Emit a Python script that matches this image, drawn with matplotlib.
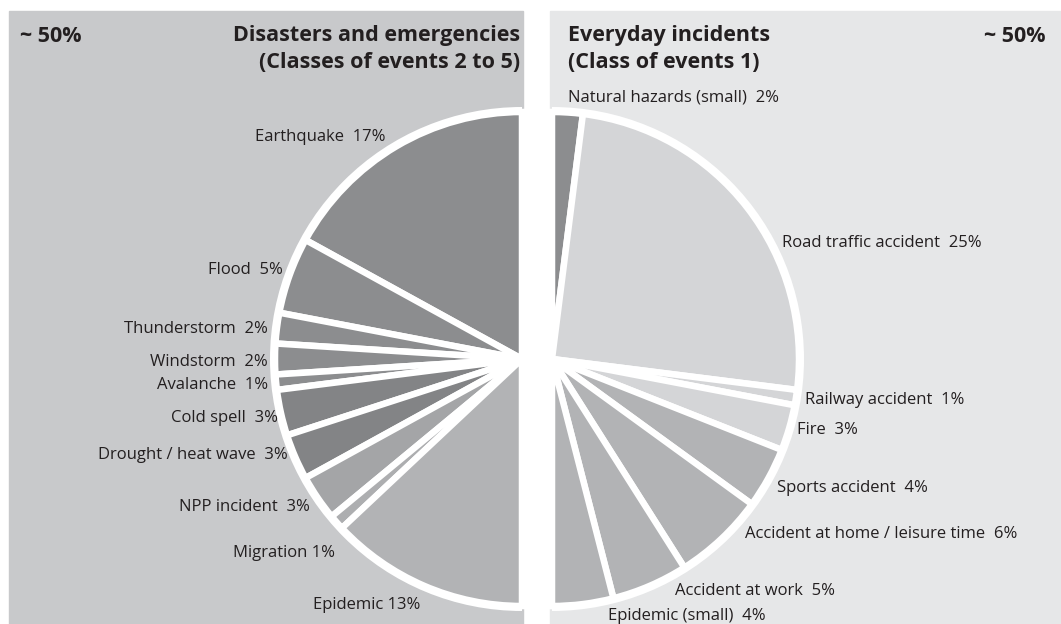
import numpy as np
import matplotlib
matplotlib.use("Agg")
import matplotlib.pyplot as plt

# left half: disasters and emergencies (classes 2 to 5)
left_labels = ["Earthquake  17%", "Flood  5%", "Thunderstorm  2%", "Windstorm  2%",
               "Avalanche  1%", "Cold spell  3%", "Drought / heat wave  3%",
               "NPP incident  3%", "Migration 1%", "Epidemic 13%"]
left_values = [17, 5, 2, 2, 1, 3, 3, 3, 1, 13]
left_colors = ["#8c8d8f", "#8c8d8f", "#8c8d8f", "#8c8d8f", "#8c8d8f",
               "#838486", "#838486", "#a4a5a7", "#adaeb0", "#b2b3b5"]

# right half: everyday incidents (class 1)
right_labels = ["Natural hazards (small)  2%", "Road traffic accident  25%",
                "Railway accident  1%", "Fire  3%", "Sports accident  4%",
                "Accident at home / leisure time  6%", "Accident at work  5%",
                "Epidemic (small)  4%"]
right_values = [2, 25, 1, 3, 4, 6, 5, 4]
right_colors = ["#8c8d8f", "#d4d5d7", "#d4d5d7", "#d4d5d7", "#b2b3b5",
                "#b2b3b5", "#b2b3b5", "#b2b3b5"]

title_left = ["Disasters and emergencies", "(Classes of events 2 to 5)"]
title_right = ["Everyday incidents", "(Class of events 1)"]

# label nudges in pixels (dx, dy down) from the rim midpoint of each wedge
left_offsets = [(-8, -5), (-2, -4), (-4, 2), (-2, 3), (-3, 2), (2, 4),
                (-3, -4), (-4, 6), (2, 27), (-2, 15)]
right_offsets = [(0, -10), (31, 38), (4, 2), (3, 1), (4, 8), (20, -9),
                 (23, 1), (24, 7)]

W, H = 1061, 624
TXT = "#231f20"
plt.rcParams["font.family"] = ["Open Sans", "DejaVu Sans"]

fig = plt.figure(figsize=(W / 100, H / 100), dpi=100)
ax = fig.add_axes([0, 0, 1, 1])
ax.set_facecolor("white")

# background panels
ax.add_patch(plt.Rectangle((9, 0), 514, H - 11, color="#c8c9cb", zorder=0))
ax.add_patch(plt.Rectangle((550, 0), W - 550, H - 11, color="#e6e7e8", zorder=0))

cy = H - 359
cl, cr = 522, 552
R = 247
sep = 6.5 * 72 / 100


def half_pie(values, colors, cx, counter):
    # white outer ring
    ring, _ = ax.pie([50, 50], colors=["white", "white"], radius=R + 5,
                     center=(cx, cy), startangle=90, counterclock=counter,
                     wedgeprops=dict(linewidth=0))
    ring[1].set_visible(False)
    wedges, _ = ax.pie(values + [sum(values)], colors=colors + ["white"],
                       radius=R, center=(cx, cy), startangle=90,
                       counterclock=counter,
                       wedgeprops=dict(edgecolor="white", linewidth=sep))
    wedges[-1].set_visible(False)
    return wedges


half_pie(left_values, left_colors, cl, True)
half_pie(right_values, right_colors, cr, False)

fs = 12
cum = np.cumsum([0] + left_values)
for i, lab in enumerate(left_labels):
    th = np.deg2rad((cum[i] + left_values[i] / 2) / 100 * 360)
    x = cl - 252 * np.sin(th) + left_offsets[i][0]
    y = cy + 252 * np.cos(th) - left_offsets[i][1]
    ax.text(x, y, lab, ha="right", va="center", fontsize=fs, color=TXT)

cum = np.cumsum([0] + right_values)
for i, lab in enumerate(right_labels):
    th = np.deg2rad((cum[i] + right_values[i] / 2) / 100 * 360)
    x = cr + 252 * np.sin(th) + right_offsets[i][0]
    y = cy + 252 * np.cos(th) - right_offsets[i][1]
    ax.text(x, y, lab, ha="left", va="center", fontsize=fs, color=TXT)

# titles
tfs = 15.5
bold = dict(fontsize=tfs, fontweight="bold", color=TXT, va="center")
for j, line in enumerate(title_left):
    ax.text(520, H - 36 - 27 * j, line, ha="right", **bold)
for j, line in enumerate(title_right):
    ax.text(568, H - 36 - 27 * j, line, ha="left", **bold)
ax.text(20, H - 37, "~ 50%", ha="left", **bold)
ax.text(1045, H - 37, "~ 50%", ha="right", **bold)

ax.set_xlim(0, W)
ax.set_ylim(0, H)
ax.set_aspect("equal")
ax.axis("off")
fig.savefig("out.png", dpi=100, facecolor="white")
